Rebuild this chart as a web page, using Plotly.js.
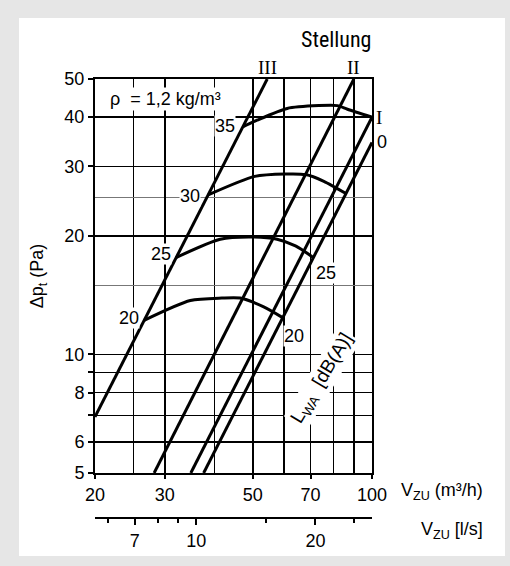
<!DOCTYPE html>
<html><head><meta charset="utf-8">
<script src="https://cdn.plot.ly/plotly-3.0.1.min.js"></script>
<style>
html,body{margin:0;padding:0;background:#e6e6e6;width:510px;height:566px;overflow:hidden}
#panel{position:absolute;left:19px;top:18px;width:486px;height:538px;background:#fff}
#chart{position:absolute;left:0;top:0;width:510px;height:566px}
</style></head><body><div id="panel"></div><div id="chart"></div>
<script>
// Stellung (damper position) system lines
const stellungNames = ['III', 'II', 'I', '0'];
const stellungX = [[20, 54.4], [28.2, 90], [34.9, 100], [37.6, 100]];
const stellungY = [[6.94, 50], [5, 50], [5, 40], [5, 34.5]];

// Constant sound power level curves L_WA [dB(A)]
const lwaLevels = [20, 25, 30, 35];
const lwa20X = [26.6, 34.8, 41.8, 46.5, 53.3, 59.5];
const lwa20Y = [12.2, 13.7, 13.9, 13.9, 13.2, 12.4];
const lwa25X = [32.0, 41.4, 50.0, 57.6, 64.1, 71.2];
const lwa25Y = [17.6, 19.6, 19.86, 19.6, 18.85, 17.6];
const lwa30X = [38.6, 50.6, 60.5, 68.0, 75.6, 86.0];
const lwa30Y = [25.4, 28.3, 28.7, 28.6, 27.5, 25.6];
const lwa35X = [47.2, 51.3, 61.1, 73.4, 81.8, 86.7, 100];
const lwa35Y = [37.8, 39.3, 42.1, 42.8, 42.8, 41.9, 40.0];

// Axis ticks
const xTickVals = [20, 30, 50, 70, 100];
const xMinorVals = [25, 40, 60, 80, 90];
const yTickVals = [5, 6, 7, 8, 9, 10, 20, 30, 40, 50];
const yTickText = ['5', '6', '', '8', '', '10', '20', '30', '40', '50'];
const yMinorVals = [15, 25];
const lsTickVals = [7, 10, 20];
const lsMinorVals = [6, 8, 9, 15, 25];
const m3hPerLs = 3.6;
const xRange = [20, 100];
const yRange = [5, 50];

const FONT = 'Liberation Sans, Arial, sans-serif';
const SERIF = 'Liberation Serif, DejaVu Serif, serif';
const FS = 18;
const L10 = Math.log10;

const traces = [];
for (let i = 0; i < stellungNames.length; i++) {
  traces.push({x: stellungX[i], y: stellungY[i], mode: 'lines', line: {color: '#000', width: 3},
    hoverinfo: 'skip', showlegend: false});
}
const lwaX = [lwa20X, lwa25X, lwa30X, lwa35X];
const lwaY = [lwa20Y, lwa25Y, lwa30Y, lwa35Y];
for (let i = 0; i < lwaLevels.length; i++) {
  traces.push({x: lwaX[i], y: lwaY[i], mode: 'lines', line: {color: '#000', width: 3, shape: 'spline', smoothing: 0.7},
    hoverinfo: 'skip', showlegend: false});
}
// carrier for the l/s axis
traces.push({x: [10], y: [10], xaxis: 'x2', yaxis: 'y', mode: 'markers', marker: {opacity: 0}, hoverinfo: 'skip', showlegend: false});

const ann = [];
const txt = (o) => Object.assign({showarrow: false, xanchor: 'center', yanchor: 'middle',
  font: {family: FONT, size: FS, color: '#000'}}, o);
const serifFont = {family: SERIF, size: 19, color: '#000'};
// Stellung labels
ann.push(txt({x: L10(stellungX[0][1]), y: L10(stellungY[0][1]), text: stellungNames[0], yshift: 12, font: serifFont}));
ann.push(txt({x: L10(stellungX[1][1]), y: L10(stellungY[1][1]), text: stellungNames[1], yshift: 12, font: serifFont}));
ann.push(txt({x: L10(stellungX[2][1]), y: L10(stellungY[2][1]), text: stellungNames[2], xanchor: 'left', xshift: 2, font: serifFont}));
ann.push(txt({x: L10(stellungX[3][1]), y: L10(stellungY[3][1]), text: stellungNames[3], xanchor: 'left', xshift: 3}));
// L_WA level labels at curve starts
const leftShift = [[-4, 2], [-4, 4], [-7, -1], [-7, 1]];
for (let i = 0; i < lwaLevels.length; i++) {
  ann.push(txt({x: L10(lwaX[i][0]), y: L10(lwaY[i][0]), text: String(lwaLevels[i]), xanchor: 'right',
    xshift: leftShift[i][0], yshift: leftShift[i][1], bgcolor: '#fff', borderpad: 0}));
}
// right-end labels for 20 and 25
ann.push(txt({x: L10(lwa20X[lwa20X.length - 1]), y: L10(lwa20Y[lwa20Y.length - 1]), text: String(lwaLevels[0]),
  xanchor: 'left', yanchor: 'top', xshift: 0, yshift: -7, bgcolor: '#fff', borderpad: 0}));
ann.push(txt({x: L10(lwa25X[lwa25X.length - 1]), y: L10(lwa25Y[lwa25Y.length - 1]), text: String(lwaLevels[1]),
  xanchor: 'left', yanchor: 'top', xshift: 1, yshift: -4, bgcolor: '#fff', borderpad: 0}));
// LWA label
ann.push(txt({x: L10(74.8), y: L10(8.66), text: 'L<sub>WA</sub>  [dB(A)]', textangle: -59, bgcolor: '#fff', borderpad: 1,
  font: {family: FONT, size: 19, color: '#000'}}));
// density
ann.push(txt({xref: 'paper', yref: 'paper', x: (108 - 95) / 277, y: (518 - 99) / 439, xanchor: 'left',
  text: 'ρ  = 1,2 kg/m³', bgcolor: '#fff', borderpad: 1}));
// Stellung
ann.push(txt({xref: 'paper', yref: 'paper', x: (336 - 95) / 277, y: (518 - 40) / 439, text: 'Stellung',
  font: {family: 'Liberation Sans Narrow, Roboto Condensed, Roboto, sans-serif', size: 22, color: '#000'}}));
// axis unit labels
ann.push(txt({xref: 'paper', yref: 'paper', x: (399 - 95) / 277, y: (518 - 491) / 439, xanchor: 'left',
  text: 'V<sub>ZU</sub> (m³/h)'}));
ann.push(txt({xref: 'paper', yref: 'paper', x: (419 - 95) / 277, y: (518 - 530) / 439, xanchor: 'left',
  text: 'V<sub>ZU</sub> [l/s]'}));

const tickFont = {family: FONT, size: FS, color: '#000'};
const layout = {
  width: 510, height: 566,
  margin: {l: 95, r: 138, t: 79, b: 48},
  paper_bgcolor: 'rgba(0,0,0,0)', plot_bgcolor: 'rgba(0,0,0,0)',
  font: {family: FONT, size: FS, color: '#000'},
  showlegend: false,
  xaxis: {
    type: 'log', range: [L10(xRange[0]), L10(xRange[1])], anchor: 'y',
    tickmode: 'array', tickvals: xTickVals, ticktext: xTickVals.map(String),
    ticks: 'outside', ticklen: 4, tickwidth: 2, tickcolor: '#000',
    showline: true, linewidth: 2, linecolor: '#000', mirror: true,
    showgrid: true, gridcolor: '#000', gridwidth: 1.6, zeroline: false,
    minor: {tickmode: 'array', tickvals: xMinorVals, showgrid: true, gridcolor: '#000', gridwidth: 1.6, ticks: ''},
    tickfont: tickFont, fixedrange: true
  },
  xaxis2: {
    type: 'log', range: [L10(xRange[0] / m3hPerLs), L10(xRange[1] / m3hPerLs)],
    overlaying: 'x', anchor: 'free', position: 0, side: 'bottom',
    tickmode: 'array', tickvals: lsTickVals, ticktext: lsTickVals.map(String),
    ticks: 'outside', ticklen: 6, tickwidth: 2, tickcolor: '#000',
    showline: true, linewidth: 2, linecolor: '#000', showgrid: false, zeroline: false,
    minor: {tickmode: 'array', tickvals: lsMinorVals, ticks: 'outside', ticklen: 4, tickwidth: 2, tickcolor: '#000', showgrid: false},
    tickfont: tickFont, fixedrange: true
  },
  yaxis: {
    type: 'log', range: [L10(yRange[0]), L10(yRange[1])], domain: [(518 - 473) / 439, 1],
    tickmode: 'array', tickvals: yTickVals, ticktext: yTickText,
    ticks: 'outside', ticklen: 5, tickwidth: 2, tickcolor: '#000',
    showline: true, linewidth: 2, linecolor: '#000', mirror: true,
    showgrid: true, gridcolor: '#000', gridwidth: 1.6, zeroline: false,
    minor: {tickmode: 'array', tickvals: yMinorVals, showgrid: true, gridcolor: '#777', gridwidth: 1, ticks: ''},
    tickfont: tickFont,
    title: {text: 'Δp<sub>t</sub> (Pa)', font: {family: FONT, size: FS, color: '#000'}, standoff: 16},
    fixedrange: true
  },
  annotations: ann
};
Plotly.newPlot('chart', traces, layout, {staticPlot: true, displayModeBar: false});
</script></body></html>
